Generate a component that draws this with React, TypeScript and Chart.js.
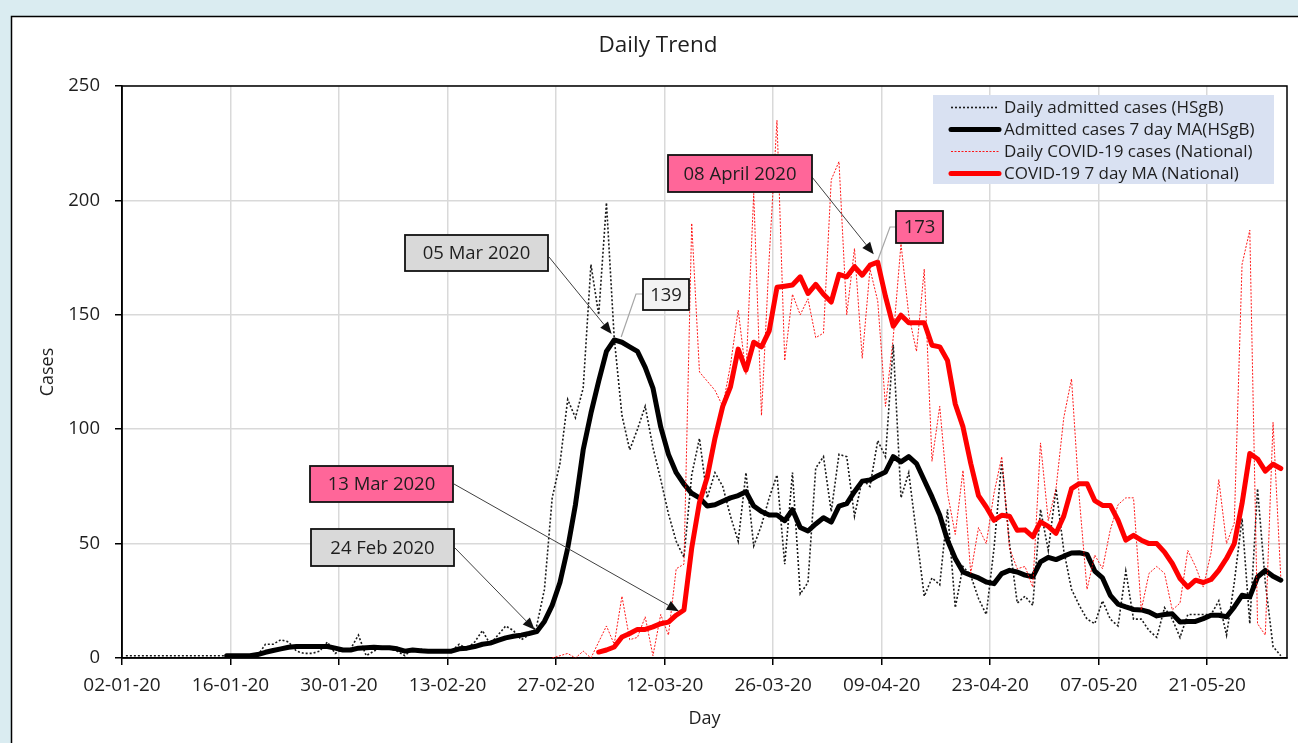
import { useEffect, useRef } from 'react';
import { Chart, registerables } from 'chart.js';

Chart.register(...registerables);

// ---------- data (day index 0 = 02-01-2020) ----------
const xTickDays = [0, 14, 28, 42, 56, 70, 84, 98, 112, 126, 140];
const xTickLabels = ['02-01-20', '16-01-20', '30-01-20', '13-02-20', '27-02-20', '12-03-20', '26-03-20', '09-04-20', '23-04-20', '07-05-20', '21-05-20'];
const yTickValues = [0, 50, 100, 150, 200, 250];

const seriesLabels = [
  'Daily admitted cases (HSgB)',
  'Admitted cases 7 day MA(HSgB)',
  'Daily COVID-19 cases (National)',
  'COVID-19 7 day MA (National)',
];

const admittedDailyStart = 0;
const admittedDaily = [
  1, 1, 1, 1, 1, 1, 1, 1, 1, 1,
  1, 1, 1, 1, 1, 1, 1, 1, 6, 6,
  8, 7, 3, 2, 2, 3, 7, 2, 4, 4,
  10, 1, 3, 5, 4, 3, 1, 4, 4, 3,
  3, 3, 3, 6, 4, 7, 12, 6, 10, 14,
  12, 8, 10, 14, 30, 70, 85, 113, 105, 118,
  172, 150, 199, 140, 106, 91, 100, 110, 92, 78,
  63, 51, 44, 80, 96, 70, 81, 75, 62, 51,
  81, 49, 58, 70, 80, 41, 81, 28, 33, 83,
  88, 64, 89, 88, 62, 78, 75, 95, 88, 137,
  70, 81, 54, 27, 35, 32, 65, 22, 40, 36,
  26, 19, 48, 86, 50, 24, 27, 23, 65, 47,
  74, 47, 30, 23, 17, 15, 25, 17, 14, 38,
  17, 17, 12, 9, 22, 17, 9, 19, 19, 19,
  19, 25, 10, 33, 61, 15, 74, 33, 5, 1,
];

const admittedMAStart = 13;
const admittedMA = [
  1, 1, 1, 1, 1.5, 2.5, 3.3,
  4, 4.7, 5, 5, 5, 5, 5, 4.3, 3.5, 3.5,
  4.3, 4.5, 4.7, 4.5, 4.5, 4, 3, 3.5, 3.2, 3,
  3, 3, 3, 4, 4.3, 5, 6, 6.5, 7.7, 8.8,
  9.5, 10, 10.7, 11.5, 16, 23, 33, 48, 67, 91,
  107, 121, 134, 139, 138, 136, 134, 127, 118, 101,
  89, 81, 76, 72, 70, 66.4, 67, 68.5, 70, 71,
  72.7, 66.4, 64, 62.5, 62.5, 60, 64.8, 57, 55.5, 58.6,
  61.3, 59.4, 66.4, 67.5, 72.7, 77.3, 77.8, 79.7, 81.3, 88,
  85.7, 88, 85, 77.7, 70.4, 62.4, 51.5, 43.5, 37.6, 36.2,
  35, 33.2, 32.5, 36.9, 38.3, 37.6, 36.2, 35.5, 42, 44,
  43, 44.5, 45.9, 46, 45.3, 38, 35, 27.4, 23.5, 22.3,
  21.2, 21, 20.1, 18.4, 19, 19.3, 15.7, 16, 16, 17.2,
  18.7, 18.7, 18, 22.3, 27.4, 26.7, 35.4, 38.3, 35.7, 34,
];

const nationalDailyStart = 55;
const nationalDaily = [
  0, 1, 2, 0, 3,
  0, 7, 14, 6, 27, 8, 9, 18, 1, 19,
  10, 39, 41, 190, 125, 121, 117, 110, 128, 152,
  124, 203, 106, 175, 235, 130, 159, 150, 157, 140,
  142, 209, 217, 150, 179, 131, 170, 156, 110, 140,
  181, 150, 134, 170, 86, 110, 72, 54, 82, 37,
  57, 50, 72, 88, 48, 39, 40, 31, 94, 60,
  74, 105, 122, 70, 30, 45, 39, 56, 67, 70,
  70, 21, 37, 40, 37, 21, 24, 47, 40, 31,
  46, 78, 50, 59, 172, 187, 15, 10, 103, 35,
];

const nationalMAStart = 61;
const nationalMA = [
  2.6, 3.5, 4.8, 9.2, 10.7, 12.5, 12.5, 13.6, 15,
  15.7, 18.7, 21, 48, 68, 79, 96, 110, 118.5, 135,
  125.8, 138, 136, 143, 162, 162.5, 163, 166.6, 159.3, 163.3,
  159, 155.6, 167.7, 166.6, 171, 167.3, 171.7, 173, 158, 145,
  149.8, 146.5, 146.5, 146.5, 136.7, 136, 130, 111, 101, 85,
  71, 66, 60.2, 62.4, 62, 55.8, 56, 53, 59.5, 57.5,
  54.5, 62, 74, 76.2, 76.2, 68.8, 66.7, 66.7, 60.2, 51.5,
  53.6, 51.5, 50, 50, 46.3, 41.3, 34.7, 31, 34, 33,
  34.3, 38.3, 43.5, 50, 67.5, 89.4, 87, 81.7, 84.7, 82.8,
];

// ---------- styling / layout ----------
const FONT = "'Open Sans', 'Noto Sans', sans-serif";
const TEXT = '#1e1e1e';
const PINK = '#ff6699';

type Callout = {
  text: string; x: number; y: number; w: number; h: number; fill: string;
  kind: 'arrow' | 'leader'; from: [number, number]; elbow?: [number, number];
  series: number; day: number; dx: number; dy: number;
};

const callouts: Callout[] = [
  { text: '05 Mar 2020', x: 405, y: 235, w: 143, h: 36, fill: '#d9d9d9', kind: 'arrow', from: [549, 257], series: 1, day: 63, dx: -2.5, dy: -6 },
  { text: '139', x: 643, y: 279, w: 46, h: 31, fill: '#f2f2f2', kind: 'leader', from: [643, 294], elbow: [636, 294], series: 1, day: 63, dx: 7, dy: -3 },
  { text: '24 Feb 2020', x: 311, y: 529, w: 143, h: 37, fill: '#d9d9d9', kind: 'arrow', from: [455, 548], series: 1, day: 53, dx: -2, dy: -2 },
  { text: '13 Mar 2020', x: 310, y: 466, w: 143, h: 36, fill: PINK, kind: 'arrow', from: [454, 484], series: 3, day: 71, dx: 2.6, dy: -4 },
  { text: '08 April 2020', x: 668, y: 155, w: 144, h: 37, fill: PINK, kind: 'arrow', from: [812, 177], series: 3, day: 97, dx: -4, dy: -8 },
  { text: '173', x: 896, y: 211, w: 47, h: 32, fill: PINK, kind: 'leader', from: [896, 227], elbow: [890, 227], series: 3, day: 97, dx: 0, dy: -2 },
];

const seriesArrays = [admittedDaily, admittedMA, nationalDaily, nationalMA];
const seriesStarts = [admittedDailyStart, admittedMAStart, nationalDailyStart, nationalMAStart];

function drawArrow(ctx: CanvasRenderingContext2D, x1: number, y1: number, x2: number, y2: number) {
  const ang = Math.atan2(y2 - y1, x2 - x1);
  const len = 12, hw = 5;
  const bx = x2 - len * Math.cos(ang), by = y2 - len * Math.sin(ang);
  ctx.beginPath(); ctx.moveTo(x1, y1); ctx.lineTo(bx, by); ctx.stroke();
  ctx.beginPath();
  ctx.moveTo(x2, y2);
  ctx.lineTo(bx + hw * Math.sin(ang), by - hw * Math.cos(ang));
  ctx.lineTo(bx - hw * Math.sin(ang), by + hw * Math.cos(ang));
  ctx.closePath(); ctx.fill();
}

const decorPlugin = {
  id: 'decor',
  beforeDraw(chart: any) {
    const ctx: CanvasRenderingContext2D = chart.ctx;
    ctx.save();
    ctx.fillStyle = '#daecf1';
    ctx.fillRect(0, 0, chart.width, chart.height);
    ctx.fillStyle = '#ffffff';
    ctx.fillRect(11, 16, chart.width, chart.height);
    ctx.strokeStyle = '#000';
    ctx.lineWidth = 1.5;
    ctx.beginPath();
    ctx.moveTo(11.5, chart.height + 2); ctx.lineTo(11.5, 16.5); ctx.lineTo(chart.width + 2, 16.5);
    ctx.stroke();
    ctx.restore();
  },
  beforeDatasetsDraw(chart: any) {
    const { ctx, chartArea: a } = chart;
    ctx.save();
    ctx.strokeStyle = '#000';
    ctx.lineWidth = 1.5;
    ctx.strokeRect(a.left, a.top, a.right - a.left, a.bottom - a.top);
    ctx.restore();
  },
  afterDraw(chart: any) {
    const ctx: CanvasRenderingContext2D = chart.ctx;
    const xs = chart.scales.x, ys = chart.scales.y;
    ctx.save();
    // title
    ctx.fillStyle = TEXT;
    ctx.font = `22.5px ${FONT}`;
    ctx.textAlign = 'center';
    ctx.textBaseline = 'middle';
    ctx.fillText('Daily Trend', 658, 46);

    // legend
    ctx.fillStyle = '#d9e1f2';
    ctx.fillRect(933, 95, 341, 89);
    const rows = [107.5, 129.5, 151.5, 173.5];
    chart.data.datasets.forEach((ds: any, i: number) => {
      const y = rows[i];
      ctx.save();
      ctx.strokeStyle = ds.borderColor;
      ctx.lineWidth = ds.borderWidth;
      ctx.setLineDash(ds.borderDash || []);
      ctx.lineCap = ds.borderDash ? 'butt' : 'round';
      ctx.beginPath(); ctx.moveTo(951, y); ctx.lineTo(999, y); ctx.stroke();
      ctx.restore();
      ctx.fillStyle = TEXT;
      ctx.font = `17px ${FONT}`;
      ctx.textAlign = 'left';
      ctx.textBaseline = 'middle';
      ctx.fillText(ds.label, 1004, y + 0.5);
    });

    // callouts
    callouts.forEach((c) => {
      const val = seriesArrays[c.series][c.day - seriesStarts[c.series]];
      const tx = xs.getPixelForValue(c.day + 0.5) + c.dx;
      const ty = ys.getPixelForValue(val) + c.dy;
      if (c.kind === 'arrow') {
        ctx.strokeStyle = '#404040';
        ctx.fillStyle = '#111';
        ctx.lineWidth = 1;
        drawArrow(ctx, c.from[0], c.from[1], tx, ty);
      } else {
        ctx.strokeStyle = '#a6a6a6';
        ctx.lineWidth = 1.2;
        ctx.beginPath();
        ctx.moveTo(c.from[0], c.from[1]);
        if (c.elbow) ctx.lineTo(c.elbow[0], c.elbow[1]);
        ctx.lineTo(tx, ty);
        ctx.stroke();
      }
      ctx.fillStyle = c.fill;
      ctx.fillRect(c.x, c.y, c.w, c.h);
      ctx.strokeStyle = '#111';
      ctx.lineWidth = 1.8;
      ctx.strokeRect(c.x, c.y, c.w, c.h);
      ctx.fillStyle = TEXT;
      ctx.font = `18.5px ${FONT}`;
      ctx.textAlign = 'center';
      ctx.textBaseline = 'middle';
      ctx.fillText(c.text, c.x + c.w / 2, c.y + c.h / 2 + 1);
    });
    ctx.restore();
  },
};

const toPoints = (start: number, vals: number[]) =>
  vals.map((v, i) => ({ x: start + i + 0.5, y: v })); // each day centred in its date band

export default function App() {
  const ref = useRef<HTMLCanvasElement>(null);
  useEffect(() => {
    const canvas = ref.current;
    if (!canvas) return;
    const xTickFont = { family: FONT, size: 19 };
    const yTickFont = { family: FONT, size: 18.5 };
    const titleFont = { family: FONT, size: 18 };
    const grid = { color: '#d9d9d9', lineWidth: 1.5, tickColor: '#000', tickLength: 7, drawTicks: true };
    const border = { color: '#000', width: 1.5 };
    const chart = new Chart(canvas, {
      type: 'line',
      data: {
        datasets: [
          {
            label: seriesLabels[0], data: toPoints(admittedDailyStart, admittedDaily),
            borderColor: '#1a1a1a', borderWidth: 1.6, borderDash: [2, 2], order: 3,
          },
          {
            label: seriesLabels[1], data: toPoints(admittedMAStart, admittedMA),
            borderColor: '#000000', borderWidth: 5, order: 2,
            borderJoinStyle: 'round', borderCapStyle: 'round',
          },
          {
            label: seriesLabels[2], data: toPoints(nationalDailyStart, nationalDaily),
            borderColor: 'rgba(255,0,0,0.9)', borderWidth: 1, borderDash: [2, 1.5], order: 1,
          },
          {
            label: seriesLabels[3], data: toPoints(nationalMAStart, nationalMA),
            borderColor: '#ff0000', borderWidth: 5, order: 0,
            borderJoinStyle: 'round', borderCapStyle: 'round',
          },
        ] as any,
      },
      options: {
        responsive: false,
        animation: false,
        devicePixelRatio: 1,
        layout: { padding: { left: 0, top: 86, right: 11, bottom: 0 } },
        elements: { point: { radius: 0, hoverRadius: 0 }, line: { tension: 0, fill: false } },
        plugins: { legend: { display: false }, title: { display: false }, tooltip: { enabled: false } },
        events: [],
        scales: {
          x: {
            type: 'linear', min: 0, max: 150.3,
            afterBuildTicks: (s: any) => { s.ticks = xTickDays.map((v) => ({ value: v })); },
            afterFit: (s: any) => { s.height = 85; },
            ticks: {
              callback: (v: any) => { const i = xTickDays.indexOf(Number(v)); return i >= 0 ? xTickLabels[i] : ''; },
              font: xTickFont, color: TEXT, padding: 9, maxRotation: 0, autoSkip: false,
            },
            grid, border,
            title: { display: true, text: 'Day', font: titleFont, color: TEXT, padding: { top: 0, bottom: 13 } },
          },
          y: {
            type: 'linear', min: 0, max: 250,
            afterBuildTicks: (s: any) => { s.ticks = yTickValues.map((v) => ({ value: v })); },
            afterFit: (s: any) => { s.width = 122; },
            ticks: { font: yTickFont, color: TEXT, padding: 15, callback: (v: any) => String(v) },
            grid, border,
            title: { display: true, text: 'Cases', font: titleFont, color: TEXT, padding: { top: 37, bottom: 0 } },
          },
        },
      } as any,
      plugins: [decorPlugin],
    });
    return () => chart.destroy();
  }, []);
  return (
    <div style={{ position: 'fixed', left: 0, top: 0, width: 1298, height: 743, overflow: 'hidden' }}>
      <canvas ref={ref} width={1298} height={743} style={{ display: 'block', width: 1298, height: 743 }} />
    </div>
  );
}
